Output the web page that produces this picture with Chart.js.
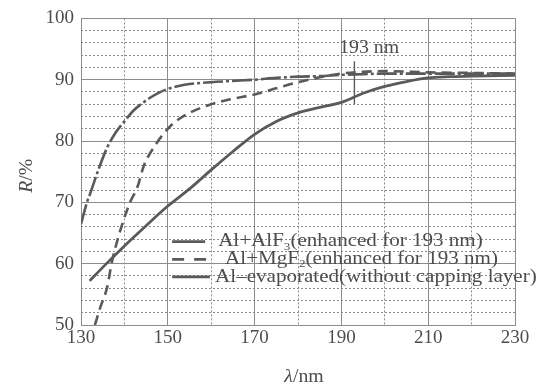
<!DOCTYPE html>
<html><head><meta charset="utf-8">
<script src="https://cdn.jsdelivr.net/npm/chart.js@4.4.1/dist/chart.umd.min.js"></script>
<style>html,body{margin:0;padding:0;background:#fff;}#wrap{width:551px;height:388px;}</style>
</head><body><div id="wrap"><canvas id="c" width="551" height="388"></canvas></div>
<script>
// ---- data ----
const alf3Wl = [130, 131.5, 132, 134, 136, 138, 140, 142, 144, 146, 148, 150, 152, 155, 160, 165, 170, 175, 180, 185, 190, 195, 200, 210, 220, 230];
const alf3R  = [66.5, 70.3, 71.2, 75.3, 78.9, 81.4, 83.2, 84.9, 86.1, 87.1, 87.9, 88.5, 88.9, 89.3, 89.6, 89.8, 90.0, 90.3, 90.5, 90.6, 90.8, 90.9, 91.0, 91.0, 91.0, 91.0];
const mgf2Wl = [133.2, 134.5, 136, 137.1, 138.5, 140, 141.3, 143, 144.5, 147, 150, 152, 155, 160, 165, 170, 175, 180, 185, 190, 195, 200, 210, 220, 230];
const mgf2R  = [50, 53, 56.1, 60.2, 64.1, 67.5, 70, 72.5, 76, 79.2, 82, 83.3, 84.6, 86, 86.9, 87.6, 88.6, 89.6, 90.4, 91.0, 91.3, 91.4, 91.2, 91.1, 91.0];
const alWl   = [132, 135, 140, 145, 150, 155, 160, 165, 170, 175, 180, 185, 190, 195, 200, 205, 210, 215, 220, 230];
const alR    = [57.2, 59.4, 62.9, 66.2, 69.4, 72.2, 75.3, 78.3, 81.1, 83.2, 84.6, 85.5, 86.3, 87.8, 88.9, 89.7, 90.3, 90.5, 90.6, 90.7];
const markerWl = [193, 193];
const markerR  = [93.0, 86.0];
const xTickLabels = [130, 150, 170, 190, 210, 230];
const yTickLabels = [50, 60, 70, 80, 90, 100];
const legendItems = [
  [{t:'Al+AlF'},{t:'3',sub:true},{t:'(enhanced for 193 nm)'}],
  [{t:'Al+MgF'},{t:'2',sub:true},{t:'(enhanced for 193 nm)'}],
  [{t:'Al\u2013evaporated(without capping layer)'}]
];
const annotationText = '193 nm';
const xTitle = [{t:'\u03bb',it:true},{t:'/nm'}];
const yTitle = [{t:'R',it:true},{t:'/%'}];

const pts = (xs, ys) => xs.map((x, i) => ({x, y: ys[i]}));
const INK = '#4d4d4d';
const CURVE = '#5a5a5a';
const FONT = '"Liberation Serif", "DejaVu Serif", serif';
const MINOR_DASH = [2, 2];

function drawRich(ctx, x, y, segs, size, sx, align) {
  ctx.save();
  ctx.textBaseline = 'middle';
  ctx.textAlign = 'left';
  ctx.fillStyle = INK;
  let total = 0;
  for (const s of segs) {
    ctx.font = (s.it ? 'italic ' : '') + (s.sub ? size * 0.62 : size) + 'px ' + FONT;
    total += ctx.measureText(s.t).width;
  }
  ctx.translate(x, y);
  ctx.scale(sx, 1);
  let cx = align === 'center' ? -total / 2 : 0;
  for (const s of segs) {
    ctx.font = (s.it ? 'italic ' : '') + (s.sub ? size * 0.62 : size) + 'px ' + FONT;
    ctx.fillText(s.t, cx, s.sub ? size * 0.28 : 0);
    cx += ctx.measureText(s.t).width;
  }
  ctx.restore();
}

const textPlugin = {
  id: 'texts',
  afterDraw(chart) {
    const ctx = chart.ctx;
    const xs = chart.scales.x, ys = chart.scales.y;
    const rows = [63.6, 60.7, 57.85];
    const textStart = [161.6, 163.2, 160.9];
    const dashes = [[33, 4, 2, 100], [12, 10], []];
    rows.forEach((r, i) => {
      const py = ys.getPixelForValue(r);
      const x0 = xs.getPixelForValue(151.0);
      const x1 = xs.getPixelForValue(i === 0 ? 159.2 : 159.7);
      ctx.save();
      ctx.strokeStyle = CURVE; ctx.lineWidth = 2.6;
      ctx.setLineDash(dashes[i]);
      ctx.beginPath(); ctx.moveTo(x0, py); ctx.lineTo(x1, py); ctx.stroke();
      ctx.restore();
      drawRich(ctx, xs.getPixelForValue(textStart[i]), py, legendItems[i], 18, 1.17, 'left');
    });
    drawRich(ctx, xs.getPixelForValue(196.4), ys.getPixelForValue(95.2), [{t: annotationText}], 18, 1.1, 'center');
    const cxm = (chart.chartArea.left + chart.chartArea.right) / 2 + 6;
    drawRich(ctx, cxm, 377, xTitle, 18, 1.1, 'center');
    ctx.save();
    ctx.translate(27, (chart.chartArea.top + chart.chartArea.bottom) / 2 + 4);
    ctx.rotate(-Math.PI / 2);
    drawRich(ctx, 0, 0, yTitle, 18, 1.1, 'center');
    ctx.restore();
  }
};

const tickFont = {family: FONT, size: 19};

new Chart(document.getElementById('c'), {
  type: 'line',
  data: {
    datasets: [
      {data: pts(alf3Wl, alf3R), borderColor: CURVE, borderWidth: 2.6, borderDash: [20, 3, 3, 3], pointRadius: 0, tension: 0.4, cubicInterpolationMode: 'monotone'},
      {data: pts(mgf2Wl, mgf2R), borderColor: CURVE, borderWidth: 2.6, borderDash: [10, 6], pointRadius: 0, tension: 0.4, cubicInterpolationMode: 'monotone'},
      {data: pts(alWl, alR), borderColor: CURVE, borderWidth: 2.8, pointRadius: 0, tension: 0.4, cubicInterpolationMode: 'monotone'},
      {data: pts(markerWl, markerR), borderColor: CURVE, borderWidth: 1.4, pointRadius: 0}
    ]
  },
  options: {
    responsive: false,
    animation: false,
    layout: {padding: {left: 0, top: 13, right: 36, bottom: 0}},
    plugins: {legend: {display: false}, tooltip: {enabled: false}},
    scales: {
      xMinor: {
        type: 'linear', position: 'bottom', min: 130, max: 230,
        ticks: {display: false, stepSize: 10},
        grid: {color: '#8a8a8a', lineWidth: 1, drawTicks: false, borderDash: MINOR_DASH},
        border: {display: true, width: 0, color: 'rgba(0,0,0,0)', dash: MINOR_DASH},
        afterFit(s) { s.height = 0; }
      },
      yMinor: {
        type: 'linear', position: 'left', min: 50, max: 100,
        ticks: {display: false, stepSize: 2},
        grid: {color: '#8a8a8a', lineWidth: 1, drawTicks: false, borderDash: MINOR_DASH},
        border: {display: true, width: 0, color: 'rgba(0,0,0,0)', dash: MINOR_DASH},
        afterFit(s) { s.width = 0; }
      },
      x: {
        type: 'linear', position: 'bottom', min: 130, max: 230,
        afterBuildTicks(s) { s.ticks = xTickLabels.map(v => ({value: v})); },
        ticks: {color: INK, font: tickFont, padding: 2, autoSkip: false, maxRotation: 0},
        grid: {color: '#8c8c8c', lineWidth: 1, drawTicks: false},
        border: {display: true, color: '#8c8c8c'},
        afterFit(s) { s.height = 63; }
      },
      y: {
        type: 'linear', position: 'left', min: 50, max: 100,
        afterBuildTicks(s) { s.ticks = yTickLabels.map(v => ({value: v})); },
        ticks: {color: INK, font: tickFont, padding: 7, autoSkip: false},
        grid: {color: '#8c8c8c', lineWidth: 1, drawTicks: false},
        border: {display: true, color: '#8c8c8c'},
        afterFit(s) { s.width = 81; }
      }
    }
  },
  plugins: [textPlugin]
});
</script>
</body></html>
